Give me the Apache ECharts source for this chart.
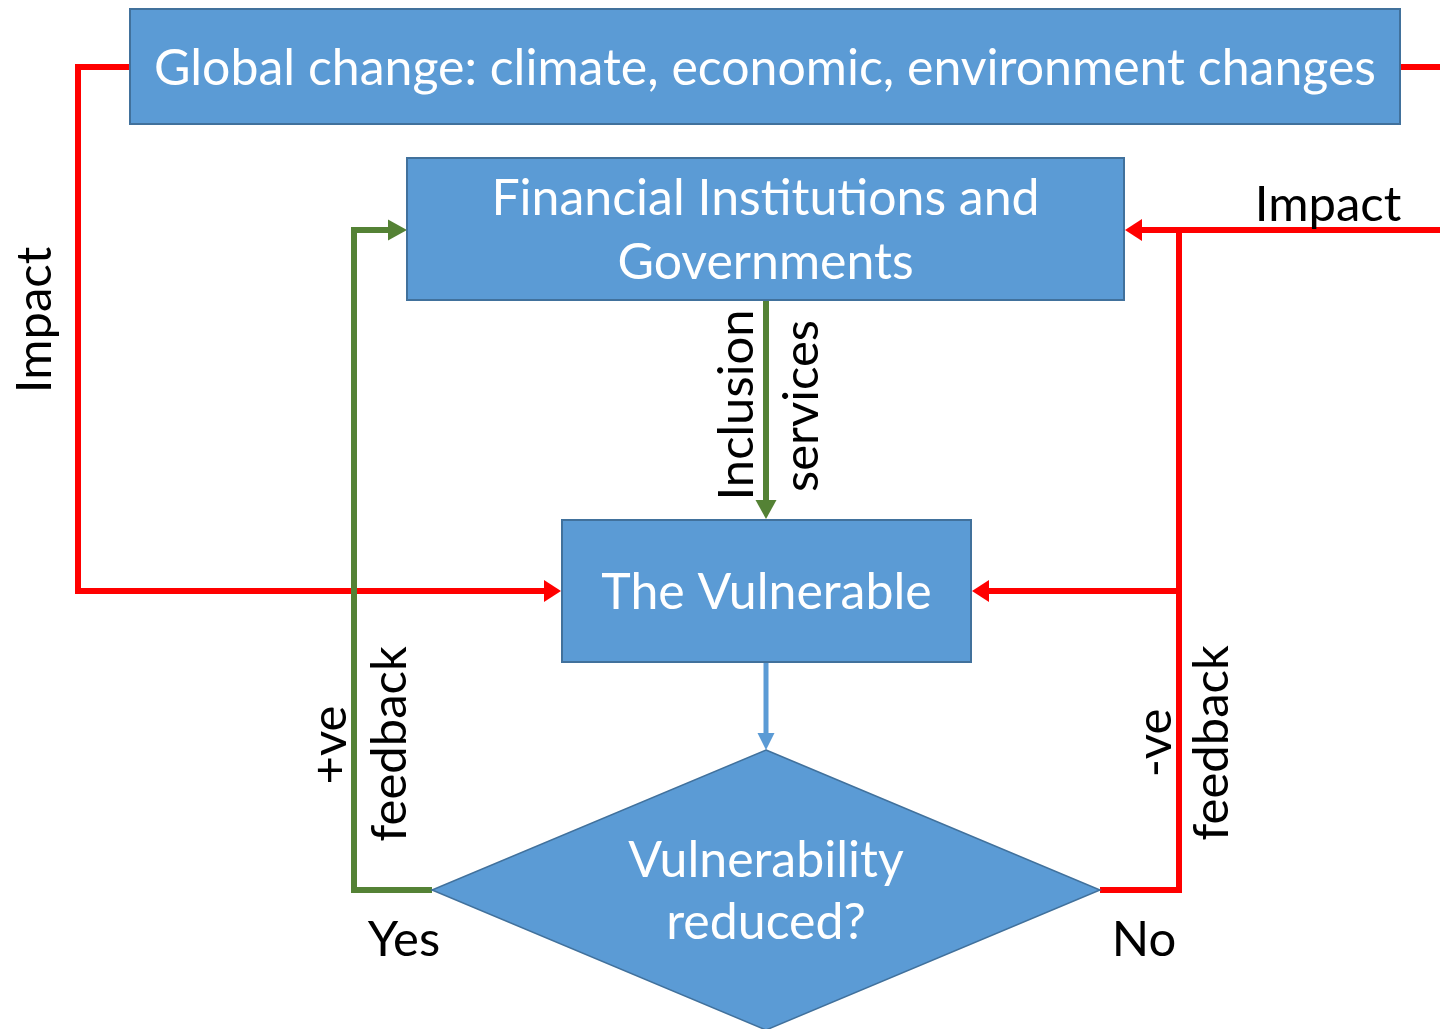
<!DOCTYPE html>
<html lang="en">
<head>
<meta charset="UTF-8">
<title>Vulnerability feedback</title>
<script src="https://cdn.jsdelivr.net/npm/echarts@6/dist/echarts.min.js"></script>
<style>
	html, body { margin: 0; padding: 0; background: #fff; }
	#main { width: 1440px; height: 1029px; }
</style>
</head>
<body>
<div id="main"></div>
<script type="text/javascript">
// diagram coordinates (x right, y down), one unit per px of the original picture
var boxes = [
	[130, 9, 1400, 124],
	[407, 158, 1124, 300],
	[562, 520, 971, 662]
];
var boxText = [
	'Global change: climate, economic, environment changes',
	'Financial Institutions and\nGovernments',
	'The Vulnerable'
];
var diamond = [[766, 750], [1100, 890], [766, 1030], [432, 890]];
var diamondText = 'Vulnerability\nreduced?';

// connectors
var redLinks = [
	[[130, 67], [78, 67], [78, 591], [561, 591]],
	[[1400, 67], [1440, 67]],
	[[1440, 230], [1125, 230]],
	[[1179, 230], [1179, 890], [1100, 890]],
	[[1179, 591], [972, 591]]
];
var redArrow = [true, false, true, false, true];
var greenLinks = [
	[[766, 300], [766, 519]],
	[[432, 890], [354, 890], [354, 230], [407, 230]]
];
var greenArrow = [true, true];
var blueLinks = [
	[[766, 662], [766, 750]]
];
var blueArrow = [true];

// free labels
var labelText = ['Impact', 'Impact', 'Inclusion', 'services', '+ve', 'feedback', '-ve', 'feedback', 'Yes', 'No'];
var labelX = [35, 1328, 737, 802, 330, 390, 1155, 1212, 404, 1144];
var labelY = [320, 205, 405, 406, 745, 744, 743, 743, 940, 940];
var labelUpright = [false, true, false, false, false, false, false, false, true, true];

var FONT = 'Lato, "Open Sans", sans-serif';

function linkSeries(paths, arrows, color, width, headLen, headW, z) {
	return {
		type: 'custom',
		coordinateSystem: 'cartesian2d',
		silent: true,
		z: z,
		data: paths.map(function (p) { return p[0]; }),
		renderItem: function (params, api) {
			var pts = paths[params.dataIndex].map(function (p) { return api.coord(p); });
			var kids = [];
			if (arrows[params.dataIndex]) {
				var n = pts.length, tip = pts[n - 1], prev = pts[n - 2];
				var dx = tip[0] - prev[0], dy = tip[1] - prev[1];
				var len = Math.sqrt(dx * dx + dy * dy);
				dx /= len; dy /= len;
				var bx = tip[0] - dx * headLen, by = tip[1] - dy * headLen;
				pts = pts.slice(0, n - 1).concat([[bx + dx * 2, by + dy * 2]]);
				kids.push({
					type: 'polygon',
					shape: { points: [tip, [bx - dy * headW / 2, by + dx * headW / 2], [bx + dy * headW / 2, by - dx * headW / 2]] },
					style: { fill: color }
				});
			}
			kids.unshift({
				type: 'polyline',
				shape: { points: pts },
				style: { stroke: color, lineWidth: width, fill: null, lineJoin: 'miter', lineCap: 'butt' }
			});
			return { type: 'group', children: kids };
		}
	};
}

var chart = echarts.init(document.getElementById('main'));
var option = {
	backgroundColor: '#fff',
	animation: false,
	grid: { left: 0, right: 0, top: 0, bottom: 0 },
	xAxis: { type: 'value', min: 0, max: 1440, show: false },
	yAxis: { type: 'value', min: 0, max: 1029, inverse: true, show: false },
	series: [
		linkSeries(redLinks, redArrow, '#FF0000', 6, 17, 22, 1),
		linkSeries(greenLinks, greenArrow, '#548235', 6, 19, 21, 2),
		linkSeries(blueLinks, blueArrow, '#5B9BD5', 5, 17, 17, 2),
		{
			// boxes
			type: 'custom',
			coordinateSystem: 'cartesian2d',
			silent: true,
			z: 3,
			data: boxes,
			encode: { x: [0, 2], y: [1, 3] },
			renderItem: function (params, api) {
				var b = boxes[params.dataIndex];
				var p0 = api.coord([b[0], b[1]]), p1 = api.coord([b[2], b[3]]);
				return {
					type: 'group',
					children: [{
						type: 'rect',
						shape: { x: p0[0], y: p0[1], width: p1[0] - p0[0], height: p1[1] - p0[1] },
						style: { fill: '#5B9BD5', stroke: '#41719C', lineWidth: 2 }
					}, {
						type: 'text',
						x: (p0[0] + p1[0]) / 2,
						y: (p0[1] + p1[1]) / 2 + 2,
						style: {
							text: boxText[params.dataIndex], fill: '#fff',
							font: '50px ' + FONT, align: 'center', verticalAlign: 'middle', lineHeight: 64
						}
					}]
				};
			}
		},
		{
			// decision diamond
			type: 'custom',
			coordinateSystem: 'cartesian2d',
			silent: true,
			z: 3,
			data: [diamond[0]],
			renderItem: function (params, api) {
				var pts = diamond.map(function (p) { return api.coord(p); });
				return {
					type: 'group',
					children: [{
						type: 'polygon',
						shape: { points: pts },
						style: { fill: '#5B9BD5', stroke: '#41719C', lineWidth: 1.5 }
					}, {
						type: 'text',
						x: pts[0][0],
						y: pts[1][1] + 2,
						style: {
							text: diamondText, fill: '#fff',
							font: '50px ' + FONT, align: 'center', verticalAlign: 'middle', lineHeight: 62
						}
					}]
				};
			}
		},
		{
			// labels
			type: 'custom',
			coordinateSystem: 'cartesian2d',
			silent: true,
			z: 4,
			data: labelX.map(function (x, i) { return [x, labelY[i]]; }),
			renderItem: function (params, api) {
				var i = params.dataIndex;
				var p = api.coord([labelX[i], labelY[i]]);
				return {
					type: 'text',
					x: p[0],
					y: p[1],
					rotation: labelUpright[i] ? 0 : Math.PI / 2,
					style: {
						text: labelText[i], fill: '#000',
						font: '49px ' + FONT, align: 'center', verticalAlign: 'middle'
					}
				};
			}
		}
	]
};
chart.setOption(option);
</script>
</body>
</html>
